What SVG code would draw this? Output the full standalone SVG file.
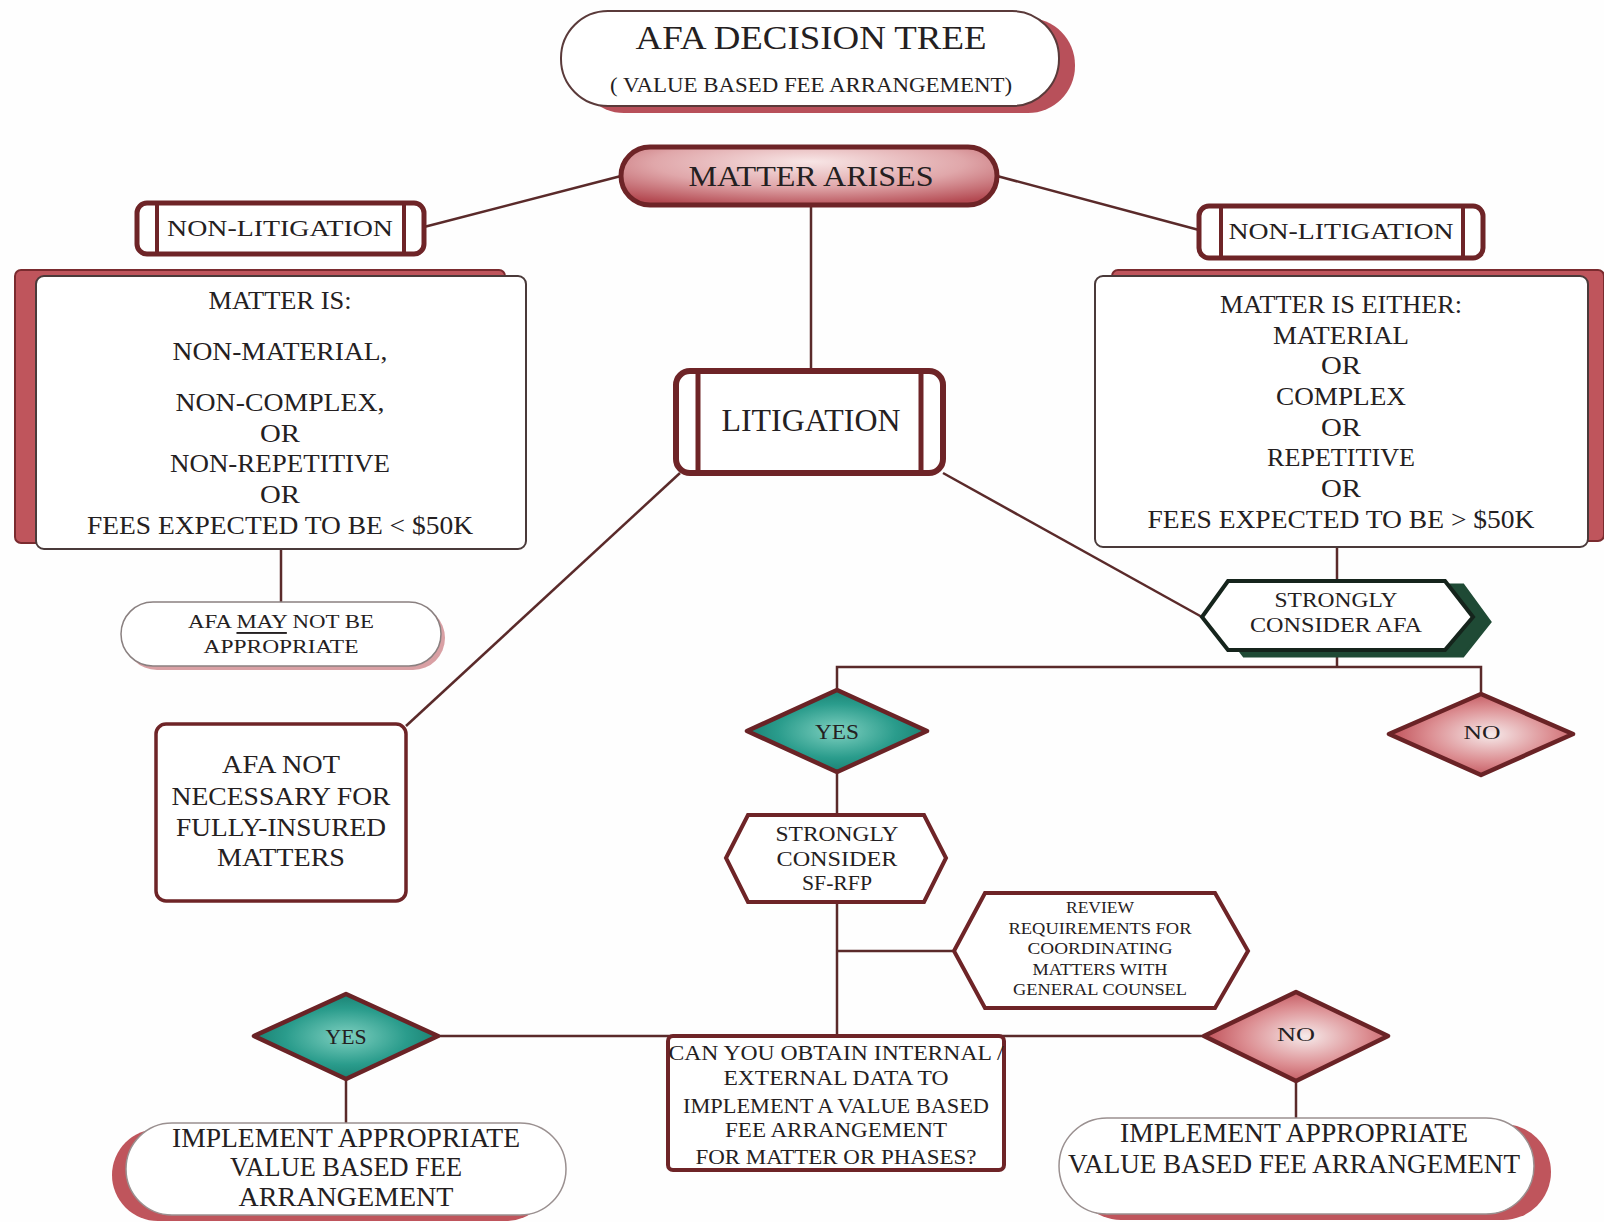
<svg xmlns="http://www.w3.org/2000/svg" width="1604" height="1222" viewBox="0 0 1604 1222">
<defs>
<style>
text{font-family:"Liberation Serif","Times New Roman",serif;fill:#242021;text-anchor:middle;dominant-baseline:central;}
.ln{stroke:#5a2a2a;stroke-width:2.5;fill:none;}
.box{fill:#fff;stroke:#6e2427;}
.shred{fill:#bf555c;stroke:#7a2b2f;stroke-width:2;}
.dia{stroke:#6a2326;stroke-width:4.5;stroke-linejoin:round;}
</style>
<radialGradient id="gTeal" cx="50%" cy="50%" r="55%">
<stop offset="0" stop-color="#7fd0c0"/><stop offset="0.6" stop-color="#2a9c8c"/><stop offset="1" stop-color="#167a6c"/>
</radialGradient>
<radialGradient id="gPink" cx="55%" cy="50%" r="55%">
<stop offset="0" stop-color="#f6eaea"/><stop offset="0.6" stop-color="#dc8e92"/><stop offset="1" stop-color="#bf5058"/>
</radialGradient>
<radialGradient id="gMatter" cx="50%" cy="30%" r="75%" fx="50%" fy="25%">
<stop offset="0" stop-color="#f8e6e6"/><stop offset="0.55" stop-color="#e0a7aa"/><stop offset="1" stop-color="#b44a52"/>
</radialGradient>
</defs>
<rect width="1604" height="1222" fill="#fefefe"/>

<g id="connectors">
<line class="ln" x1="621" y1="176" x2="424" y2="227"/>
<line class="ln" x1="997" y1="176" x2="1199" y2="230"/>
<line class="ln" x1="811" y1="205" x2="811" y2="370"/>
<line class="ln" x1="281" y1="549" x2="281" y2="602"/>
<line class="ln" x1="680" y1="473" x2="406" y2="726"/>
<line class="ln" x1="943" y1="473" x2="1202" y2="617"/>
<line class="ln" x1="1337" y1="547" x2="1337" y2="580"/>
<polyline class="ln" points="1337,650 1337,667"/>
<polyline class="ln" points="837,690 837,667 1481,667 1481,694"/>
<line class="ln" x1="837" y1="772" x2="837" y2="815"/>
<line class="ln" x1="837" y1="902" x2="837" y2="1036"/>
<line class="ln" x1="837" y1="951" x2="954" y2="951"/>
<line class="ln" x1="438" y1="1036" x2="1204" y2="1036"/>
<line class="ln" x1="346" y1="1079" x2="346" y2="1125"/>
<line class="ln" x1="1296" y1="1081" x2="1296" y2="1120"/>
</g>

<g id="title">
<rect x="577" y="18" width="498" height="95" rx="47" fill="#b8505a"/>
<rect x="561" y="11" width="498" height="95" rx="47" fill="#fff" stroke="#5a3a3a" stroke-width="2"/>
<text x="811" y="37" font-size="34" textLength="351" lengthAdjust="spacingAndGlyphs">AFA DECISION TREE</text>
<text x="811" y="85" font-size="20" textLength="402" lengthAdjust="spacingAndGlyphs">( VALUE BASED FEE ARRANGEMENT)</text>
</g>

<g id="matter-arises">
<rect x="621" y="147" width="376" height="58" rx="29" fill="url(#gMatter)" stroke="#6e2427" stroke-width="5"/>
<text x="811" y="175" font-size="30" textLength="245" lengthAdjust="spacingAndGlyphs">MATTER ARISES</text>
</g>

<g id="nonlit-left">
<rect x="137" y="203" width="287" height="51" rx="10" class="box" stroke-width="5"/>
<line x1="157" y1="203" x2="157" y2="254" stroke="#6e2427" stroke-width="4"/>
<line x1="404" y1="203" x2="404" y2="254" stroke="#6e2427" stroke-width="4"/>
<text x="280" y="228" font-size="24" textLength="226" lengthAdjust="spacingAndGlyphs">NON-LITIGATION</text>
</g>

<g id="nonlit-right">
<rect x="1199" y="206" width="284" height="52" rx="10" class="box" stroke-width="5"/>
<line x1="1221" y1="206" x2="1221" y2="258" stroke="#6e2427" stroke-width="4"/>
<line x1="1463" y1="206" x2="1463" y2="258" stroke="#6e2427" stroke-width="4"/>
<text x="1341" y="231" font-size="24" textLength="225" lengthAdjust="spacingAndGlyphs">NON-LITIGATION</text>
</g>

<g id="left-criteria">
<rect x="15" y="270" width="490" height="273" rx="6" class="shred"/>
<rect x="36" y="276" width="490" height="273" rx="8" fill="#fff" stroke="#4a3a3a" stroke-width="2"/>
<text x="280" y="300" font-size="26" textLength="143" lengthAdjust="spacingAndGlyphs">MATTER IS:</text>
<text x="280" y="351" font-size="26" textLength="215" lengthAdjust="spacingAndGlyphs">NON-MATERIAL,</text>
<text x="280" y="402" font-size="26" textLength="209" lengthAdjust="spacingAndGlyphs">NON-COMPLEX,</text>
<text x="280" y="433" font-size="26" textLength="40" lengthAdjust="spacingAndGlyphs">OR</text>
<text x="280" y="463" font-size="26" textLength="220" lengthAdjust="spacingAndGlyphs">NON-REPETITIVE</text>
<text x="280" y="494" font-size="26" textLength="40" lengthAdjust="spacingAndGlyphs">OR</text>
<text x="280" y="525" font-size="26" textLength="386" lengthAdjust="spacingAndGlyphs">FEES EXPECTED TO BE &lt; $50K</text>
</g>

<g id="right-criteria">
<rect x="1112" y="270" width="492" height="271" rx="6" class="shred"/>
<rect x="1095" y="276" width="493" height="271" rx="8" fill="#fff" stroke="#4a3a3a" stroke-width="2"/>
<text x="1341" y="304" font-size="26" textLength="242" lengthAdjust="spacingAndGlyphs">MATTER IS EITHER:</text>
<text x="1341" y="335" font-size="26" textLength="136" lengthAdjust="spacingAndGlyphs">MATERIAL</text>
<text x="1341" y="365" font-size="26" textLength="40" lengthAdjust="spacingAndGlyphs">OR</text>
<text x="1341" y="396" font-size="26" textLength="130" lengthAdjust="spacingAndGlyphs">COMPLEX</text>
<text x="1341" y="427" font-size="26" textLength="40" lengthAdjust="spacingAndGlyphs">OR</text>
<text x="1341" y="457" font-size="26" textLength="148" lengthAdjust="spacingAndGlyphs">REPETITIVE</text>
<text x="1341" y="488" font-size="26" textLength="40" lengthAdjust="spacingAndGlyphs">OR</text>
<text x="1341" y="519" font-size="26" textLength="387" lengthAdjust="spacingAndGlyphs">FEES EXPECTED TO BE &gt; $50K</text>
</g>

<g id="litigation">
<rect x="676" y="371" width="267" height="102" rx="14" class="box" stroke-width="6"/>
<line x1="698" y1="371" x2="698" y2="473" stroke="#6e2427" stroke-width="5"/>
<line x1="921" y1="371" x2="921" y2="473" stroke="#6e2427" stroke-width="5"/>
<text x="811" y="420" font-size="32" textLength="179" lengthAdjust="spacingAndGlyphs">LITIGATION</text>
</g>

<g id="afa-may-not">
<rect x="125" y="606" width="320" height="64" rx="32" fill="#d9a0a4"/>
<rect x="121" y="602" width="320" height="64" rx="32" fill="#fff" stroke="#8a8080" stroke-width="1.5"/>
<text x="281" y="621" font-size="19" textLength="186" lengthAdjust="spacingAndGlyphs">AFA <tspan text-decoration="underline">MAY</tspan> NOT BE</text>
<text x="281" y="646" font-size="19" textLength="155" lengthAdjust="spacingAndGlyphs">APPROPRIATE</text>
</g>

<g id="afa-not-necessary">
<rect x="156" y="724" width="250" height="177" rx="10" class="box" stroke-width="3.5"/>
<text x="281" y="764" font-size="26" textLength="118" lengthAdjust="spacingAndGlyphs">AFA NOT</text>
<text x="281" y="796" font-size="26" textLength="219" lengthAdjust="spacingAndGlyphs">NECESSARY FOR</text>
<text x="281" y="827" font-size="26" textLength="210" lengthAdjust="spacingAndGlyphs">FULLY-INSURED</text>
<text x="281" y="857" font-size="26" textLength="128" lengthAdjust="spacingAndGlyphs">MATTERS</text>
</g>

<g id="strongly-afa">
<polygon points="1218,622 1244,585 1463,585 1490,622 1463,656 1244,656" fill="#1f4a35" stroke="#1f4a35" stroke-width="3"/>
<polygon points="1202,617 1228,581 1445,581 1473,617 1445,650 1228,650" fill="#fff" stroke="#15241c" stroke-width="4"/>
<text x="1336" y="600" font-size="20" textLength="123" lengthAdjust="spacingAndGlyphs">STRONGLY</text>
<text x="1336" y="625" font-size="20" textLength="172" lengthAdjust="spacingAndGlyphs">CONSIDER AFA</text>
</g>

<g id="yes-1">
<polygon class="dia" points="837,690 927,731 837,772 747,731" fill="url(#gTeal)"/>
<text x="837" y="731" font-size="22" textLength="44" lengthAdjust="spacingAndGlyphs">YES</text>
</g>

<g id="no-1">
<polygon class="dia" points="1481,694 1573,734 1481,775 1389,734" fill="url(#gPink)"/>
<text x="1482" y="733" font-size="18" textLength="37" lengthAdjust="spacingAndGlyphs">NO</text>
</g>

<g id="sf-rfp">
<polygon points="726,858 748,815 924,815 946,858 924,902 748,902" fill="#fff" stroke="#6e2427" stroke-width="4"/>
<text x="837" y="834" font-size="20" textLength="123" lengthAdjust="spacingAndGlyphs">STRONGLY</text>
<text x="837" y="859" font-size="20" textLength="121" lengthAdjust="spacingAndGlyphs">CONSIDER</text>
<text x="837" y="883" font-size="20" textLength="70" lengthAdjust="spacingAndGlyphs">SF-RFP</text>
</g>

<g id="review">
<polygon points="954,951 985,893 1215,893 1248,951 1215,1008 985,1008" fill="#fff" stroke="#6e2427" stroke-width="4"/>
<text x="1100" y="907" font-size="16" textLength="68" lengthAdjust="spacingAndGlyphs">REVIEW</text>
<text x="1100" y="928" font-size="16" textLength="183" lengthAdjust="spacingAndGlyphs">REQUIREMENTS FOR</text>
<text x="1100" y="948" font-size="16" textLength="145" lengthAdjust="spacingAndGlyphs">COORDINATING</text>
<text x="1100" y="969" font-size="16" textLength="135" lengthAdjust="spacingAndGlyphs">MATTERS WITH</text>
<text x="1100" y="989" font-size="16" textLength="174" lengthAdjust="spacingAndGlyphs">GENERAL COUNSEL</text>
</g>

<g id="can-you">
<rect x="668" y="1036" width="336" height="134" rx="5" class="box" stroke-width="4"/>
<text x="836" y="1052" font-size="22" textLength="335" lengthAdjust="spacingAndGlyphs">CAN YOU OBTAIN INTERNAL /</text>
<text x="836" y="1077" font-size="22" textLength="225" lengthAdjust="spacingAndGlyphs">EXTERNAL DATA TO</text>
<text x="836" y="1105" font-size="22" textLength="306" lengthAdjust="spacingAndGlyphs">IMPLEMENT A VALUE BASED</text>
<text x="836" y="1129" font-size="22" textLength="222" lengthAdjust="spacingAndGlyphs">FEE ARRANGEMENT</text>
<text x="836" y="1156" font-size="22" textLength="281" lengthAdjust="spacingAndGlyphs">FOR MATTER OR PHASES?</text>
</g>

<g id="yes-2">
<polygon class="dia" points="346,994 438,1036 346,1079 254,1036" fill="url(#gTeal)"/>
<text x="346" y="1036" font-size="22" textLength="41" lengthAdjust="spacingAndGlyphs">YES</text>
</g>

<g id="no-2">
<polygon class="dia" points="1296,992 1388,1036 1296,1081 1204,1036" fill="url(#gPink)"/>
<text x="1296" y="1035" font-size="18" textLength="38" lengthAdjust="spacingAndGlyphs">NO</text>
</g>

<g id="implement-left">
<rect x="112" y="1129" width="440" height="92" rx="46" fill="#bf555c"/>
<rect x="126" y="1123" width="440" height="92" rx="46" fill="#fff" stroke="#9a9090" stroke-width="1.5"/>
<text x="346" y="1138" font-size="27" textLength="348" lengthAdjust="spacingAndGlyphs">IMPLEMENT APPROPRIATE</text>
<text x="346" y="1167" font-size="27" textLength="232" lengthAdjust="spacingAndGlyphs">VALUE BASED FEE</text>
<text x="346" y="1197" font-size="27" textLength="215" lengthAdjust="spacingAndGlyphs">ARRANGEMENT</text>
</g>

<g id="implement-right">
<rect x="1073" y="1124" width="478" height="96" rx="48" fill="#bf555c"/>
<rect x="1059" y="1118" width="475" height="96" rx="48" fill="#fff" stroke="#9a9090" stroke-width="1.5"/>
<text x="1294" y="1133" font-size="27" textLength="348" lengthAdjust="spacingAndGlyphs">IMPLEMENT APPROPRIATE</text>
<text x="1294" y="1164" font-size="27" textLength="452" lengthAdjust="spacingAndGlyphs">VALUE BASED FEE ARRANGEMENT</text>
</g>
</svg>
